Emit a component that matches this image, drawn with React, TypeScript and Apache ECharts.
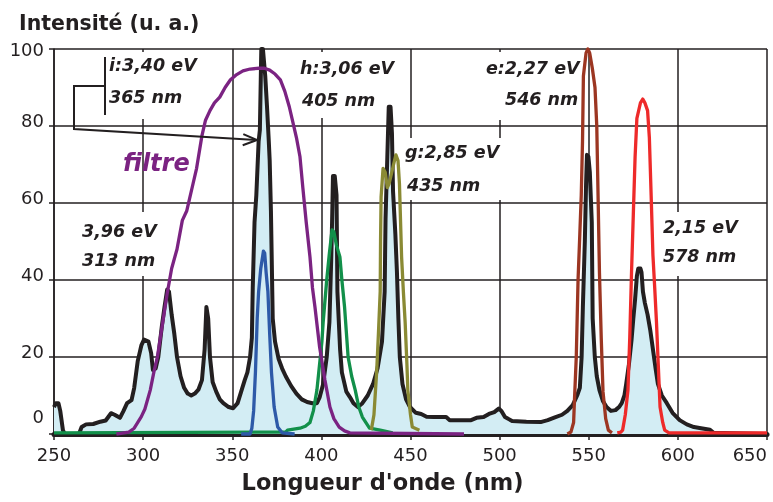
import React, { useEffect, useRef } from "react";
import * as echarts from "echarts";

const FONT = "'DejaVu Sans', sans-serif";
const INK = "#231f20";

const xTicks = { min: 250, max: 650, step: 50 };
const yTicks = { min: 0, max: 100, step: 20 };

// Mercury lamp spectrum (nm, intensity)
const mercurySpectrum: [number, number][] = [
  [250, 7], [251, 8], [252.5, 8], [253.5, 6], [255, 1], [256, 0], [264, 0], [265.5, 1.8], [268, 2.5],
  [272, 2.6], [276, 3.2], [279, 3.5], [282, 5.4], [284, 5.0], [287, 4.2], [289, 6], [291, 8],
  [293.5, 8.8], [295, 12], [297, 19], [299, 23], [300.5, 24.5], [303, 24], [304.5, 21], [305.5, 16.6],
  [307, 17], [308.5, 20], [310.5, 28], [312, 33], [313.5, 37.5], [314.5, 37], [316, 31], [317.5, 26],
  [319, 20], [321, 15], [323, 12], [325, 10.5], [327, 10], [329, 10.5], [331, 11.5], [333, 14],
  [334.5, 22], [335.5, 33], [336.5, 30], [337.5, 20], [339, 13.5], [341, 11], [343, 9], [345, 8],
  [348, 7], [350.5, 6.7], [353, 8], [355, 11], [357, 14], [358.5, 16], [360, 20], [361, 25],
  [361.5, 38], [362.5, 55], [363.5, 62], [364.8, 76], [365.5, 79], [366.3, 100], [367.2, 100],
  [368.5, 93], [369.5, 85], [370.5, 76], [371, 71], [371.7, 58], [372.2, 44], [372.7, 30], [374, 24],
  [376, 19.5], [378, 17], [380, 15], [383, 12.5], [386, 10.5], [389, 9], [392, 8.3], [395, 8],
  [397.5, 8], [399, 9.5], [401, 13], [403, 20], [404.5, 29], [405.5, 45], [406, 55], [406.5, 67],
  [407.5, 67], [408.5, 62], [409, 37], [410.5, 22], [411.5, 16], [414, 11], [416, 9.6], [418, 8],
  [420.5, 7], [423, 8], [426, 10], [429, 13], [431.5, 17], [434, 24], [435.5, 37], [436, 56],
  [437, 72], [437.8, 85], [438.8, 85], [439.6, 78], [440.2, 63], [441.5, 52], [442.4, 42],
  [443.2, 30], [444, 20], [445.5, 13], [447.5, 9], [449.7, 7], [453, 5.5], [456, 5.2], [459, 4.5],
  [463, 4.4], [470, 4.4], [472, 3.6], [484, 3.6], [487, 4.2], [491, 4.4], [494, 5.2], [497, 5.7],
  [499.5, 6.6], [501, 6], [503, 4.4], [507, 3.4], [515, 3.2], [523, 3.1], [527, 3.6], [531, 4.3],
  [535, 5], [538, 6], [541, 7.5], [543.5, 10], [545, 12], [546, 20], [546.7, 33], [547.8, 50],
  [548.5, 65], [549, 72.5], [549.8, 72], [550.6, 68], [551.7, 55], [552.2, 30], [553.4, 20],
  [554.5, 15], [556, 11.4], [558, 8.5], [560, 7], [562.5, 6], [565, 6.2], [567, 7], [568.5, 8],
  [570, 10], [571, 13], [572.5, 18], [574, 24.4], [575, 30], [576, 35], [577, 41], [577.8, 43],
  [579, 43], [579.6, 42], [580.4, 37], [581.5, 34], [583, 31], [584.5, 27], [586, 22], [587.5, 17],
  [588.8, 13], [591, 10], [593.8, 8], [597, 5.5], [601, 3.6], [605, 2.5], [609, 1.8], [613, 1.5],
  [618, 1.1], [620, 0.3], [650, 0],
];

// Filter transmission
const filterCurve: [number, number][] = [
  [285, 0], [292, 0.5], [295, 1.5], [297, 3], [299, 4.5], [301, 6.5], [304, 11.4], [306, 16],
  [308, 20], [310.5, 27.5], [313.5, 36.5], [316, 43], [319, 48], [322, 55.5], [324.5, 58], [326, 61],
  [328, 65], [330, 69], [333, 77.5], [335, 81.5], [337.5, 84], [340, 86], [343, 87.5], [346, 90],
  [349, 92], [352, 93.2], [356, 94.3], [360, 94.8], [365, 95], [368, 95], [371, 94.5], [374, 93.5],
  [377, 92], [379.5, 89], [382, 85], [384, 81], [386, 77], [388, 72], [389.6, 64], [391.5, 55],
  [393.6, 46], [395, 38], [396.4, 33], [399, 22.6], [402, 14], [404.8, 7], [407, 4], [410, 1.8],
  [413, 0.8], [416, 0.3], [480, 0],
];

const line365: [number, number][] = [
  [355, 0], [360, 0], [361, 1.5], [362, 6], [363, 16], [364, 30], [364.8, 37], [366, 43],
  [367.5, 47.5], [368.2, 47], [369, 42], [370, 37], [371, 26], [372, 16], [373.5, 7], [375.5, 1.8],
  [378, 0.3], [385, 0],
];

const line405: [number, number][] = [
  [250, 0.3], [380, 0.5], [381, 1], [388, 1.5], [391, 2], [393.6, 3], [395.5, 6], [397.5, 11.4],
  [400.3, 24], [401, 29], [403, 40], [404.5, 47], [406, 53], [407, 52.5], [408.5, 49], [410.4, 46],
  [411.5, 40], [413, 33], [415, 20], [417, 15], [419, 11.4], [421, 7], [423, 4.4], [427, 1.5],
  [433, 1], [440, 0.3],
];

const line435: [number, number][] = [
  [428, 1], [429.5, 5], [431, 16], [432, 26], [433, 37], [433.2, 50], [433.5, 61.5], [434.6, 69],
  [435.8, 68], [437, 64], [438, 65], [439, 67], [440.5, 70], [441.8, 72.5], [443, 71], [443.8, 65],
  [445, 46], [446, 37], [447, 29], [448, 18], [448.5, 11.4], [450, 5], [451, 1.8], [455, 1],
];

const line546: [number, number][] = [
  [538, 0], [540, 0.5], [541.5, 3], [542, 9], [543, 20], [544, 40], [545, 52], [545.8, 62],
  [546.5, 76], [547, 93], [548.5, 99], [549.5, 100], [550.5, 99], [552, 95], [553.5, 90],
  [554.5, 80], [555.3, 60], [556, 42], [557, 25], [558, 11], [559.5, 4], [561, 1], [563, 0.3],
];

const line578: [number, number][] = [
  [566, 0.3], [568, 0.5], [569, 1], [570.5, 5], [572, 11.4], [573, 25], [574, 42], [575, 57],
  [576, 72], [577, 82], [578, 84], [579, 86], [580.3, 87], [581.5, 86], [583, 84], [584, 77],
  [585, 62], [586, 46.5], [587, 38], [588, 29], [589, 18], [590, 7], [591.5, 3], [592.6, 1],
  [595, 0.3], [650, 0.3],
];

const annotations = [
  { text: "i:3,40 eV", x: 109, y: 64.5 },
  { text: "365 nm", x: 109, y: 96.5 },
  { text: "h:3,06 eV", x: 300, y: 68 },
  { text: "405 nm", x: 302, y: 99.5 },
  { text: "e:2,27 eV", x: 486, y: 68 },
  { text: "546 nm", x: 505, y: 99 },
  { text: "g:2,85 eV", x: 405, y: 152 },
  { text: "435 nm", x: 407, y: 184.5 },
  { text: "3,96 eV", x: 82, y: 231 },
  { text: "313 nm", x: 82, y: 259.5 },
  { text: "2,15 eV", x: 663, y: 227 },
  { text: "578 nm", x: 663, y: 255.5 },
];

const labelBoxes = [
  { x: 107, y: 52, w: 95, h: 67 },
  { x: 297, y: 52, w: 100, h: 66 },
  { x: 482, y: 52, w: 97, h: 68 },
  { x: 403, y: 138, w: 99, h: 62 },
  { x: 78, y: 212, w: 84, h: 64 },
  { x: 659, y: 212, w: 82, h: 64 },
];

function lineSeries(data: [number, number][], color: string, width: number) {
  return {
    type: "line",
    data,
    symbol: "none",
    showSymbol: false,
    clip: false,
    lineStyle: { color, width, join: "round" },
  };
}

export default function App() {
  const ref = useRef<HTMLDivElement>(null);
  useEffect(() => {
    if (!ref.current) return;
    const chart = echarts.init(ref.current, undefined, { renderer: "svg" });
    const graphics: any[] = [];
    labelBoxes.forEach((b) =>
      graphics.push({ type: "rect", z: 1, shape: { x: b.x, y: b.y, width: b.w, height: b.h }, style: { fill: "#ffffff" } })
    );
    annotations.forEach((a) =>
      graphics.push({
        type: "text",
        z: 5,
        x: a.x,
        y: a.y,
        style: { text: a.text, fill: INK, font: `italic bold 17.5px ${FONT}`, align: "left", verticalAlign: "middle" },
      })
    );
    graphics.push({
      type: "text",
      z: 5,
      x: 123,
      y: 163,
      style: { text: "filtre", fill: "#7b2382", font: `italic bold 24px ${FONT}`, align: "left", verticalAlign: "middle" },
    });
    graphics.push({ type: "line", z: 5, shape: { x1: 105, y1: 57, x2: 105, y2: 115 }, style: { stroke: INK, lineWidth: 2 } });
    graphics.push({
      type: "polyline",
      z: 5,
      shape: { points: [[105, 86], [74, 86], [74, 129], [257, 140]] },
      style: { stroke: INK, lineWidth: 2, fill: "none" },
    });
    graphics.push({
      type: "polyline",
      z: 5,
      shape: { points: [[243.3, 134.2], [257, 140], [242.7, 145.2]] },
      style: { stroke: INK, lineWidth: 2, fill: "none" },
    });

    const labelFont = { fontFamily: FONT, fontSize: 18, color: INK };
    chart.setOption({
      animation: false,
      title: {
        text: "Intensité (u. a.)",
        left: 14,
        top: 7,
        textStyle: { fontFamily: FONT, fontWeight: "bold", fontSize: 20.5, color: INK },
      },
      grid: { left: 54, right: 6, top: 49, bottom: 68, containLabel: false, outerBoundsMode: "none" },
      xAxis: {
        type: "value",
        min: xTicks.min,
        max: xTicks.max,
        interval: xTicks.step,
        name: "Longueur d'onde (nm)",
        nameLocation: "middle",
        nameGap: 36,
        nameTextStyle: { fontFamily: FONT, fontWeight: "bold", fontSize: 22.5, color: INK, padding: [0, 56, 0, 0] },
        axisLine: { show: true, lineStyle: { color: INK, width: 5, cap: "round" } },
        axisTick: { show: true, length: 6, lineStyle: { color: INK, width: 1.5 } },
        axisLabel: { ...labelFont, margin: 11, alignMaxLabel: "right" },
        splitLine: { show: true, lineStyle: { color: INK, width: 1.5 } },
      },
      yAxis: {
        type: "value",
        min: yTicks.min,
        max: yTicks.max,
        interval: yTicks.step,
        axisLine: { show: true, lineStyle: { color: INK, width: 1.5 } },
        axisTick: { show: true, length: 5, lineStyle: { color: INK, width: 1.5 } },
        axisLabel: {
          ...labelFont,
          margin: 10,
          formatter: (v: number) => (v === 0 ? `{z|0}` : v === 100 ? `{t|100}` : `{m|${v}}`),
          rich: {
            z: { ...labelFont, padding: [0, 0, 36, 0] },
            t: { ...labelFont },
            m: { ...labelFont, padding: [0, 0, 12, 0] },
          },
        },
        splitLine: { show: true, lineStyle: { color: INK, width: 1.5 } },
      },
      series: [
        {
          ...lineSeries(mercurySpectrum, INK, 4),
          areaStyle: { color: "#d3edf4", opacity: 1, origin: "start" },
          z: 2,
        },
        { ...lineSeries(line405, "#12904a", 3.3), z: 3 },
        { ...lineSeries(filterCurve, "#7b2382", 3.3), z: 3 },
        { ...lineSeries(line365, "#2e5aa8", 3.3), z: 3 },
        { ...lineSeries(line435, "#8a8a34", 3.3), z: 3 },
        { ...lineSeries(line546, "#9c3622", 3.3), z: 3 },
        { ...lineSeries(line578, "#ee2a2a", 3.3), z: 3 },
      ],
      graphic: { elements: graphics },
    });
    return () => chart.dispose();
  }, []);
  return <div ref={ref} style={{ position: "fixed", left: 0, top: 0, width: 773, height: 502 }} />;
}
